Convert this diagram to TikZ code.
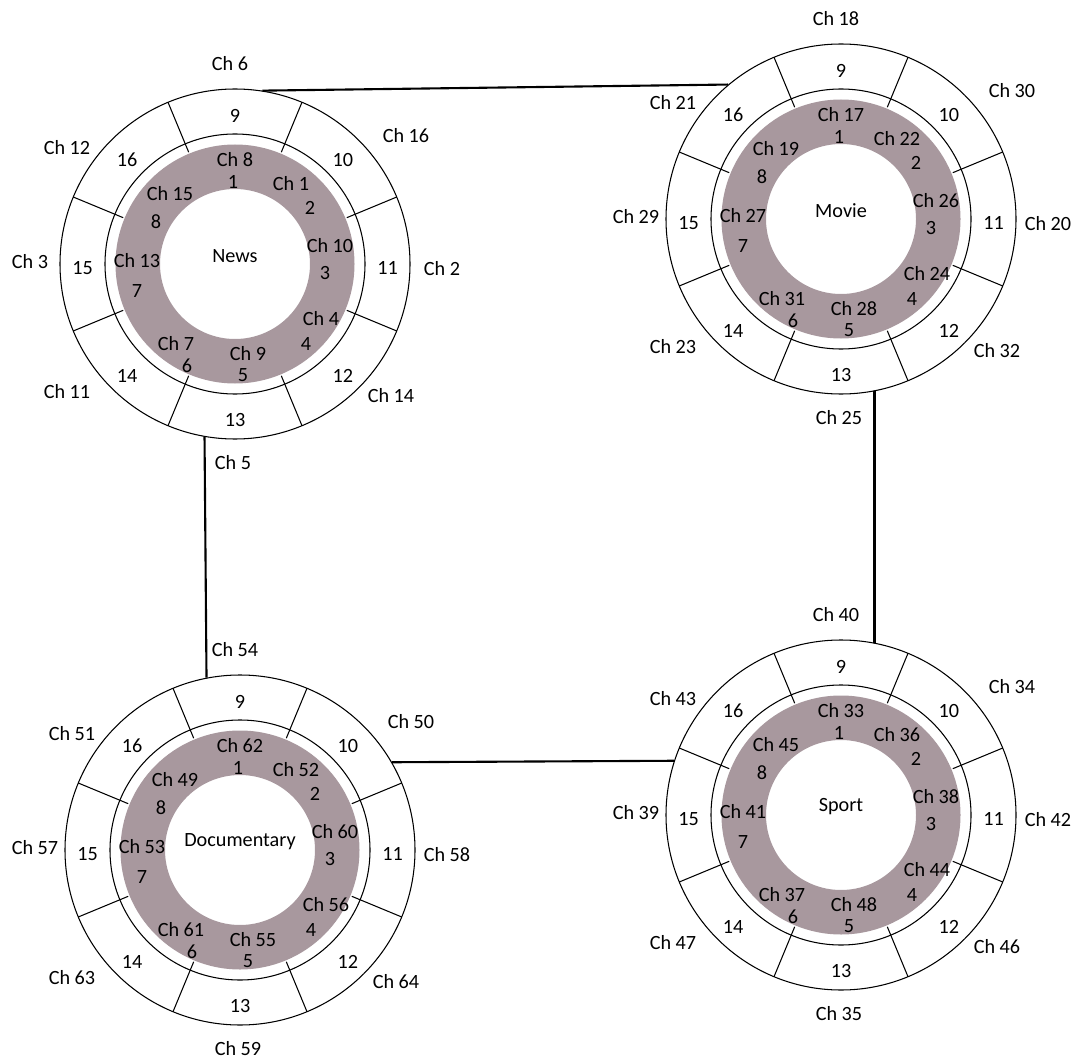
\documentclass[tikz,border=0pt]{standalone}
\usepackage{fontspec}
\setmainfont{Carlito}
\usepackage{tikz}
\usetikzlibrary{positioning}
\definecolor{ringgray}{RGB}{168,152,158}
\tikzset{every node/.style={font=\fontsize{11.5}{13}\selectfont, inner sep=1pt},
  link/.style={line width=1.2pt, color=black},
  ringline/.style={line width=0.6pt, color=black}}
% #1 name, #2 centre, #3 title, #4 inner channels 1..8, #5 outer channels 9..16
\newcommand{\chring}[5]{%
\begin{scope}[shift={#2}]
  \fill[ringgray, even odd rule] (0,0) circle (2.39) (0,0) circle (1.5);
  \draw[ringline] (0,0) circle (2.6);
  \node[ringline, draw, circle, minimum size=7cm, inner sep=0pt] (#1) at (0,0) {};
  \foreach \a in {22.5,67.5,...,337.5}
    \draw[ringline] (\a:2.42) -- (\a:3.5);
  \node (#1-name) at (0,0.16) {#3};
  %inner ring
  \foreach \cx/\cy/\nx/\ny [count=\i] in {0/2.08/-0.04/1.64, 1.12/1.6/1.5/1.12,
      1.9/0.36/1.8/-0.18, 1.72/-1.1/1.42/-1.6, 0.26/-1.8/0.16/-2.22,
      -1.18/-1.6/-0.96/-2.04, -1.96/0.06/-1.96/-0.54, -1.3/1.4/-1.58/0.84}{
    \pgfmathtruncatemacro\chn{{#4}[\i-1]}
    \node (#1-c\i) at (\cx,\cy) {Ch \chn};
    \node (#1-n\i) at (\nx,\ny) {\i};
  }
  %outer ring
  \foreach \a/\ox/\oy [count=\i] in {90/-0.1/4.0, 45/3.42/2.56, 0/4.14/-0.1,
      -45/3.12/-2.64, -90/-0.04/-3.98, -135/-3.36/-2.56, 180/-4.1/0.05, 135/-3.36/2.33}{
    \pgfmathtruncatemacro\nn{\i+8}
    \pgfmathtruncatemacro\chn{{#5}[\i-1]}
    \node (#1-o\i) at ([yshift=-0.08cm]\a:3.05) {\nn};
    \node (#1-oc\i) at (\ox,\oy) {Ch \chn};
  }
\end{scope}}

\begin{document}
\begin{tikzpicture}
\useasboundingbox (0,0) rectangle (21.5,-21.22);
%rings
\chring{news}{(4.70,-5.28)}{News}{8,1,10,4,9,7,13,15}{6,16,2,14,5,11,3,12}
\chring{movie}{(16.82,-4.38)}{Movie}{17,22,26,24,28,31,27,19}{18,30,20,32,25,23,29,21}
\chring{doc}{(4.80,-17.00)}{Documentary}{62,52,60,56,55,61,53,49}{54,50,58,64,59,63,57,51}
\chring{sport}{(16.82,-16.30)}{Sport}{33,36,38,44,48,37,41,45}{40,34,42,46,35,47,39,43}
%links
\draw[link] (news.81) -- (movie.130);
\draw[link] (movie.-79) -- (sport.79);
\draw[link] (news.-100) -- (doc.101);
\draw[link] (doc.30) -- (sport.162);
\end{tikzpicture}
\end{document}
